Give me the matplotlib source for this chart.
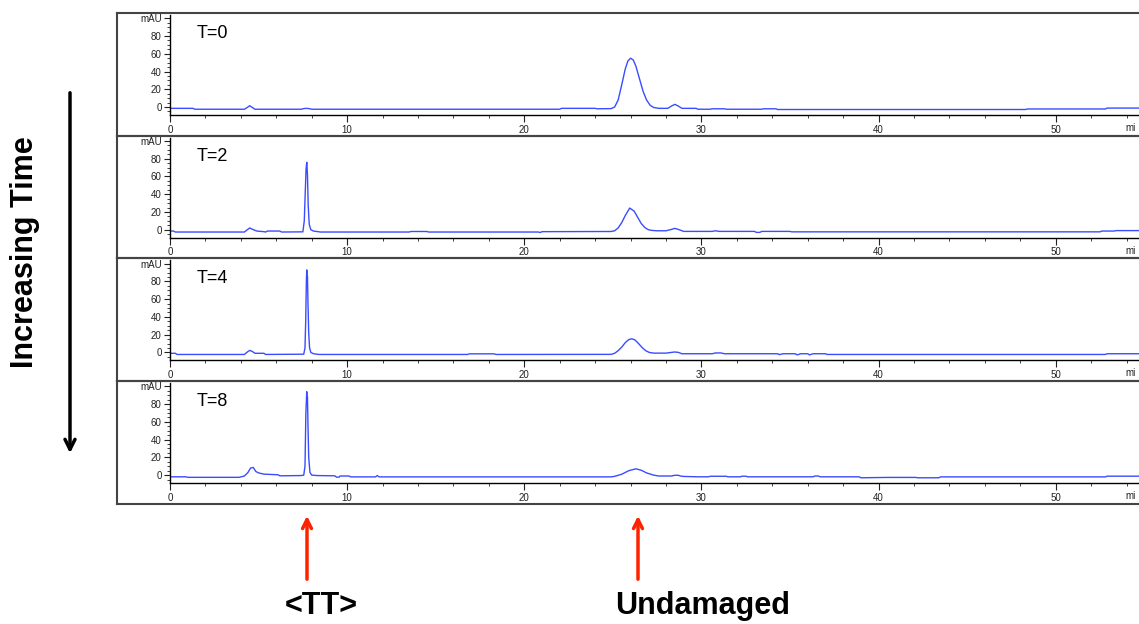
import matplotlib
matplotlib.use("Agg")
import matplotlib.pyplot as plt
from matplotlib.ticker import MultipleLocator, FixedLocator, FixedFormatter

plt.rcParams['font.family'] = ['Liberation Sans', 'DejaVu Sans']

# chromatogram traces (time in min, signal in mAU)
labels = ['T=0', 'T=2', 'T=4', 'T=8']

t0_time = [0, 1.3, 1.4, 4.2, 4.4, 4.5, 4.6, 4.8, 7.4, 7.6, 7.8, 8.0, 22.0, 22.1, 24.0, 24.1,
           24.9, 25.1, 25.3, 25.5, 25.7, 25.85, 26.0, 26.15, 26.3, 26.5, 26.7, 26.9, 27.1, 27.3,
           27.6, 28.1, 28.3, 28.5, 28.7, 28.9, 29.7, 29.8, 30.5, 30.6, 31.3, 31.4, 33.4, 33.5,
           34.2, 34.3, 48.3, 48.4, 52.8, 52.9, 54.7]
t0_mau = [-1.5, -1.5, -2.5, -2.5, 0, 1.5, 0, -2.5, -2.5, -1.6, -1.6, -2.5, -2.5, -1.5, -1.5, -2,
          -1.8, 0, 8, 25, 43, 52, 55, 53, 46, 32, 18, 8, 2, -0.5,
          -1.5, -1.5, 1, 3, 1, -1.5, -1.5, -2.5, -2.5, -2, -2, -2.5, -2.5, -2,
          -2, -2.8, -2.8, -2.2, -2.2, -1.2, -1.2]

t2_time = [0, 0.2, 0.3, 4.2, 4.4, 4.5, 4.65, 4.9, 5.3, 5.4, 5.5, 6.2, 6.3, 7.5, 7.58, 7.64,
           7.68, 7.72, 7.76, 7.8, 7.86, 7.95, 8.1, 8.5, 13.5, 13.6, 14.5, 14.6, 20.8, 20.9,
           21.0, 24.9, 25.1, 25.3, 25.5, 25.7, 25.95, 26.2, 26.4, 26.6, 26.8, 27.0, 27.2, 27.5,
           28.0, 28.3, 28.5, 28.7, 29.0, 30.6, 30.8, 31.0, 33.0, 33.1, 33.3, 33.4, 35.0, 35.1,
           52.5, 52.6, 53.3, 53.4, 54.7]
t2_mau = [-1.5, -1.5, -2.6, -2.6, 0.5, 2, 0.5, -1.5, -2.2, -2.6, -1.5, -1.5, -2.6, -2.4, 10, 45,
          68, 76, 62, 28, 6, 0, -1.5, -2.6, -2.6, -2, -2, -2.6, -2.6, -3.2,
          -2.2, -2.0, -1.2, 2, 8, 16, 24.4, 21, 14, 7, 2.5, 0, -0.8, -1.2,
          -1.2, 0.3, 1.5, 0.3, -1.9, -1.9, -1.2, -1.9, -1.9, -3, -3, -1.9, -1.9, -2.4,
          -2.4, -1.5, -1.5, -1.0, -1.0]

t4_time = [0, 0.3, 0.4, 4.2, 4.4, 4.5, 4.65, 4.8, 5.3, 5.4, 7.55, 7.62, 7.66, 7.7, 7.72, 7.74,
           7.76, 7.79, 7.83, 7.88, 7.95, 8.1, 8.4, 16.8, 16.9, 18.3, 18.4, 24.9, 25.1, 25.3,
           25.5, 25.7, 25.9, 26.07, 26.25, 26.45, 26.65, 26.85, 27.05, 27.3, 28.0, 28.3, 28.5,
           28.7, 28.9, 30.6, 30.8, 31.1, 31.3, 34.3, 34.4, 34.6, 35.3, 35.4, 35.6, 36.0, 36.1,
           36.3, 37.0, 37.1, 52.8, 52.9, 54.7]
t4_mau = [-1, -1, -2.3, -2.3, 1, 2.3, 1, -1, -1, -2.3, -2, 5, 35, 82, 93, 84,
          86, 55, 22, 5, 0, -1.5, -2.3, -2.3, -1.6, -1.6, -2.3, -2.2, -1, 2,
          6, 11, 14.5, 15.4, 14, 10, 5.5, 2, 0, -0.8, -0.8, 0, 0.5,
          0, -1.5, -1.5, -0.6, -0.6, -1.5, -1.5, -2.5, -1.5, -1.5, -2.8, -1.5, -1.5, -2.8,
          -1.5, -1.5, -2.3, -2.3, -1.5, -1.5]

t8_time = [0, 0.9, 1.0, 3.9, 4.2, 4.4, 4.55, 4.7, 4.85, 5.0, 5.3, 6.1, 6.2, 7.4, 7.55, 7.62,
           7.67, 7.72, 7.74, 7.76, 7.79, 7.83, 7.9, 8.0, 8.3, 9.3, 9.4, 9.55, 9.6, 10.1,
           10.2, 11.6, 11.7, 11.8, 24.9, 25.1, 25.5, 25.9, 26.3, 26.6, 26.9, 27.3, 27.6, 28.3,
           28.5, 28.7, 28.8, 29.0, 29.8, 30.4, 30.5, 31.4, 31.5, 32.2, 32.3, 32.5, 32.6, 36.3,
           36.4, 36.6, 36.7, 38.9, 39.0, 40.5, 42.1, 42.2, 43.4, 43.5, 52.8, 52.9, 54.7]
t8_mau = [-1.9, -1.9, -2.5, -2.5, -1, 3, 8, 8.6, 4, 2.5, 1.1, 0.4, -0.8, -0.5, 0, 10,
          70, 94, 85, 88, 55, 20, 3, 0, -0.5, -0.8, -2.3, -2.3, -1.0, -1.0,
          -2, -2, -0.5, -2, -2, -1.4, 1, 5, 7.1, 5.5, 2.5, 0, -1.0, -1.0,
          -0.2, -0.2, -1.0, -1.5, -1.9, -1.9, -1.3, -1.3, -1.9, -1.9, -1.2, -1.2, -1.9, -1.9,
          -1, -1, -1.9, -1.9, -3, -2.6, -2.6, -3, -3, -2, -2, -1.2, -1.2]

times = [t0_time, t2_time, t4_time, t8_time]
signals = [t0_mau, t2_mau, t4_mau, t8_mau]

W, H = 1139, 624
fig = plt.figure(figsize=(W / 100, H / 100), dpi=100)

step = 122.7
for k in range(4):
    off = k * step
    # outer box of the panel
    box = fig.add_axes([117 / W, 1 - (135.5 + off) / H, 1.0, 122.5 / H])
    box.set_xticks([])
    box.set_yticks([])
    for s in box.spines.values():
        s.set_color('#444444')
        s.set_linewidth(1.5)
    box.patch.set_alpha(0)

    ax = fig.add_axes([170 / W, 1 - (115 + off) / H, (W - 170) / W, 100 / H])
    ax.patch.set_alpha(0)
    ax.plot(times[k], signals[k], color='#3a4cff', lw=1.0)
    ax.set_xlim(0, 54.7)
    ax.set_ylim(-9, 103.7)
    ax.spines['top'].set_visible(False)
    ax.spines['right'].set_visible(False)
    ax.spines['left'].set_bounds(-9, 103.7)
    ax.spines['left'].set_linewidth(1.0)
    ax.spines['bottom'].set_linewidth(1.0)
    ax.xaxis.set_major_locator(MultipleLocator(10))
    ax.xaxis.set_minor_locator(MultipleLocator(2))
    ax.yaxis.set_major_locator(FixedLocator([0, 20, 40, 60, 80, 100]))
    ax.yaxis.set_major_formatter(FixedFormatter(['0', '20', '40', '60', '80', 'mAU']))
    ax.yaxis.set_minor_locator(MultipleLocator(5))
    ax.tick_params(axis='both', which='major', labelsize=7, length=4, width=0.8,
                   colors='#222222', pad=2)
    ax.tick_params(axis='both', which='minor', length=2, width=0.6, colors='#222222')
    ax.tick_params(axis='x', which='major', length=5)
    # the unit label is cut by the right edge in the original ("mi")
    ax.text(53.95, -0.08, 'mi', transform=ax.get_xaxis_transform(), fontsize=7,
            va='top', ha='left', color='#222222')
    ax.text(1.5, 83, labels[k], fontsize=13, va='center', ha='left')

# side and bottom annotations
fig.text(25 / W, 1 - 252 / H, 'Increasing Time', rotation=90, fontsize=22,
         fontweight='bold', ha='center', va='center')
fig.add_artist(plt.matplotlib.patches.FancyArrowPatch(
    (70 / W, 1 - 90 / H), (70 / W, 1 - 456 / H), transform=fig.transFigure,
    arrowstyle='->', mutation_scale=18, lw=2.5, color='black'))

for xp in [307, 638]:
    fig.add_artist(plt.matplotlib.patches.FancyArrowPatch(
        (xp / W, 1 - 582 / H), (xp / W, 1 - 513 / H), transform=fig.transFigure,
        arrowstyle='->', mutation_scale=16, lw=2.5, color='#ff2200'))

fig.text(321 / W, 1 - 606 / H, '<TT>', fontsize=22, fontweight='bold', ha='center', va='center')
fig.text(703 / W, 1 - 606 / H, 'Undamaged', fontsize=22, fontweight='bold', ha='center', va='center')

fig.savefig('out.png', dpi=100)
